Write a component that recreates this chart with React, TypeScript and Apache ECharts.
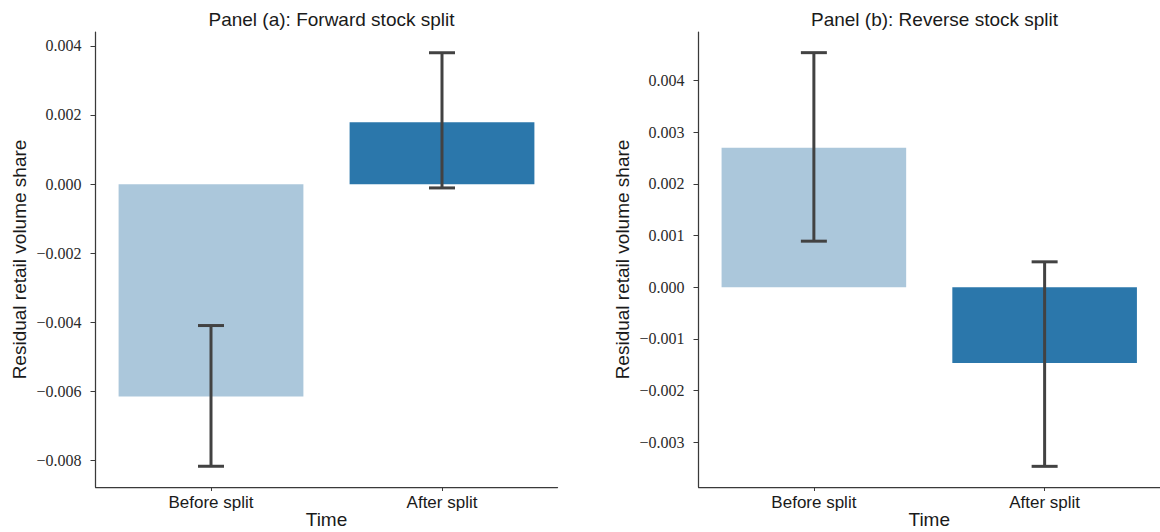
import { useEffect, useRef } from "react";
import * as echarts from "echarts";

const categories = ["Before split", "After split"];
const forwardMeans = [-0.00614, 0.00179];
const forwardLower = [-0.00816, -0.00011];
const forwardUpper = [-0.00409, 0.0038];
const reverseMeans = [0.0027, -0.00147];
const reverseLower = [0.00089, -0.00347];
const reverseUpper = [0.00454, 0.00049];
const forwardTicks = [-0.008, -0.006, -0.004, -0.002, 0, 0.002, 0.004];
const reverseTicks = [-0.003, -0.002, -0.001, 0, 0.001, 0.002, 0.003, 0.004];
const forwardRange = [-0.00876, 0.0044];
const reverseRange = [-0.00387, 0.00494];
const barColors = ["#abc7db", "#2b77ab"];
const panelTitles = ["Panel (a): Forward stock split", "Panel (b): Reverse stock split"];
const yAxisTitle = "Residual retail volume share";
const xAxisTitle = "Time";

const SANS = "'Liberation Sans', Arial, Helvetica, sans-serif";
const SERIF = "'Liberation Serif', 'Times New Roman', serif";
const AXIS_COLOR = "#3a3a3a";
const TEXT_COLOR = "#1a1a1a";
const ERR_COLOR = "#424242";

const fmt = (v: number) => (v < 0 ? "\u2212" : "") + Math.abs(v).toFixed(3);

const errorRender = (params: any, api: any) => {
  const x = api.value(0);
  const lo = api.coord([x, api.value(1)]);
  const hi = api.coord([x, api.value(2)]);
  const cap = 13;
  const style = { stroke: ERR_COLOR, lineWidth: 3 };
  return {
    type: "group",
    children: [
      { type: "line", shape: { x1: lo[0], y1: lo[1], x2: hi[0], y2: hi[1] }, style },
      { type: "line", shape: { x1: lo[0] - cap, y1: lo[1], x2: lo[0] + cap, y2: lo[1] }, style },
      { type: "line", shape: { x1: hi[0] - cap, y1: hi[1], x2: hi[0] + cap, y2: hi[1] }, style },
    ],
  };
};

const makeX = (gridIndex: number) => ({
  type: "category",
  gridIndex,
  data: categories,
  boundaryGap: true,
  name: xAxisTitle,
  nameLocation: "middle",
  nameGap: 22,
  nameMoveOverlap: false,
  nameTextStyle: { fontFamily: SANS, fontSize: 19, color: TEXT_COLOR, lineHeight: 20 },
  axisLine: { show: true, onZero: false, lineStyle: { color: AXIS_COLOR, width: 1.25 } },
  axisTick: { show: true, alignWithLabel: true, length: 4, lineStyle: { color: AXIS_COLOR, width: 1 } },
  axisLabel: { fontFamily: SANS, fontSize: 17, color: TEXT_COLOR, margin: 7 },
  splitLine: { show: false },
});

const makeY = (gridIndex: number, range: number[], ticks: number[]) => ({
  type: "value",
  gridIndex,
  min: range[0],
  max: range[1],
  name: yAxisTitle,
  nameLocation: "middle",
  nameGap: 67,
  nameMoveOverlap: false,
  nameTextStyle: { fontFamily: SANS, fontSize: 19, color: TEXT_COLOR },
  axisLine: { show: true, onZero: false, lineStyle: { color: AXIS_COLOR, width: 1.25 } },
  axisTick: { show: true, length: 5, customValues: ticks, lineStyle: { color: AXIS_COLOR, width: 1 } },
  axisLabel: {
    fontFamily: SERIF,
    fontSize: 16,
    color: "#2a2a2a",
    margin: 14,
    customValues: ticks,
    formatter: fmt,
  },
  splitLine: { show: false },
});

export default function App() {
  const ref = useRef<HTMLDivElement>(null);
  useEffect(() => {
    document.body.style.margin = "0";
    if (!ref.current) return;
    const chart = echarts.init(ref.current, null, { renderer: "svg" });
    chart.setOption({
      animation: false,
      backgroundColor: "#ffffff",
      title: [
        {
          text: panelTitles[0],
          left: 326.5,
          top: 5,
          textAlign: "center",
          textStyle: { fontFamily: SANS, fontSize: 19, fontWeight: "normal", color: TEXT_COLOR },
        },
        {
          text: panelTitles[1],
          left: 929.5,
          top: 5,
          textAlign: "center",
          textStyle: { fontFamily: SANS, fontSize: 19, fontWeight: "normal", color: TEXT_COLOR },
        },
      ],
      grid: [
        { left: 95.5, width: 462, top: 32, bottom: 45, outerBoundsMode: "none", containLabel: false },
        { left: 698.5, right: 0, top: 32, bottom: 45, outerBoundsMode: "none", containLabel: false },
      ],
      xAxis: [makeX(0), makeX(1)],
      yAxis: [makeY(0, forwardRange, forwardTicks), makeY(1, reverseRange, reverseTicks)],
      series: [
        {
          type: "bar",
          xAxisIndex: 0,
          yAxisIndex: 0,
          barWidth: "80%",
          data: forwardMeans.map((v, i) => ({ value: v, itemStyle: { color: barColors[i] } })),
        },
        {
          type: "bar",
          xAxisIndex: 1,
          yAxisIndex: 1,
          barWidth: "80%",
          data: reverseMeans.map((v, i) => ({ value: v, itemStyle: { color: barColors[i] } })),
        },
        {
          type: "custom",
          xAxisIndex: 0,
          yAxisIndex: 0,
          clip: false,
          z: 5,
          renderItem: errorRender,
          encode: { x: 0, y: [1, 2] },
          data: categories.map((_, i) => [i, forwardLower[i], forwardUpper[i]]),
        },
        {
          type: "custom",
          xAxisIndex: 1,
          yAxisIndex: 1,
          clip: false,
          z: 5,
          renderItem: errorRender,
          encode: { x: 0, y: [1, 2] },
          data: categories.map((_, i) => [i, reverseLower[i], reverseUpper[i]]),
        },
      ],
    });
    return () => chart.dispose();
  }, []);
  return <div ref={ref} style={{ width: 1160, height: 532 }} />;
}
